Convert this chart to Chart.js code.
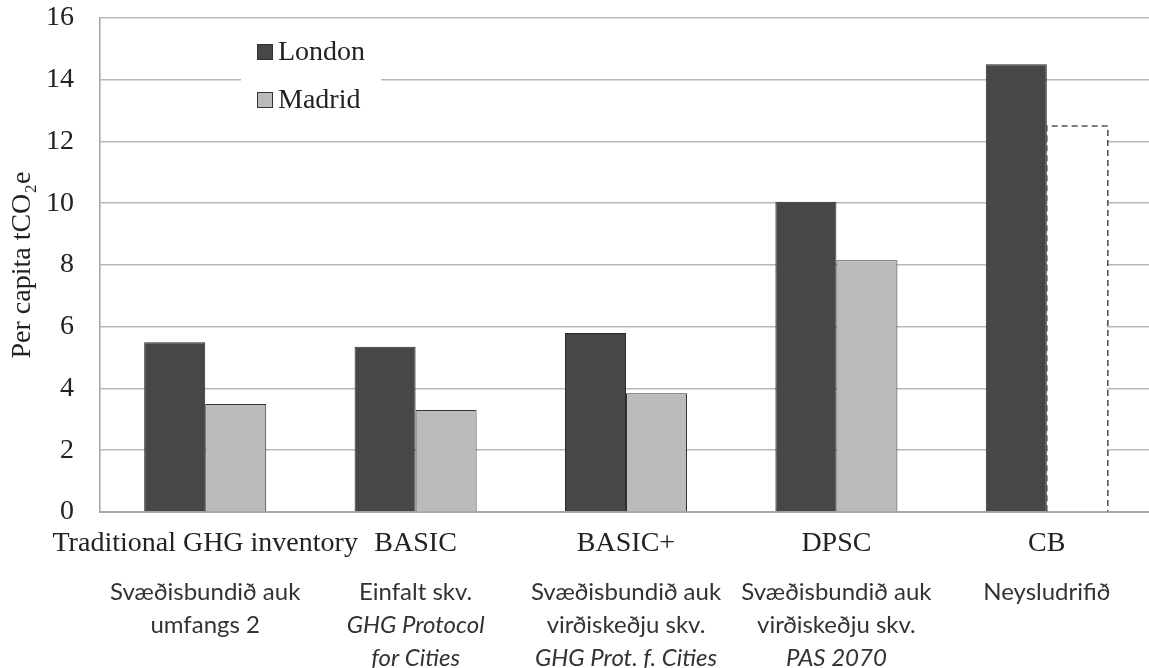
<!DOCTYPE html>
<html>
<head>
<meta charset="utf-8">
<script src="https://cdn.jsdelivr.net/npm/chart.js@4.4.1/dist/chart.umd.min.js"></script>
<style>
    html, body { margin: 0; padding: 0; background: #fff; overflow: hidden; }
    #wrap { width: 1152px; height: 668px; position: relative; }
</style>
</head>
<body>
<div id="wrap"><canvas id="emissionsChart"></canvas></div>
<script>
// Chart data
const categories = ['Traditional GHG inventory', 'BASIC', 'BASIC+', 'DPSC', 'CB'];
const londonValues = [5.5, 5.35, 5.8, 10.05, 14.5];
const madridValues = [3.5, 3.3, 3.85, 8.15, 12.5];
const madridEstimated = [false, false, false, false, true];
const yTicks = [0, 2, 4, 6, 8, 10, 12, 14, 16];

// Icelandic sub labels, one list of lines per category ({ t, i } = italic)
const subLabels = [
    ['Svæðisbundið auk', 'umfangs 2'],
    ['Einfalt skv.', { t: 'GHG Protocol', i: true }, { t: 'for Cities', i: true }],
    ['Svæðisbundið auk', 'virðiskeðju skv.', { t: 'GHG Prot. f. Cities', i: true }],
    ['Svæðisbundið auk', 'virðiskeðju skv.', { t: 'PAS 2070', i: true }],
    ['Neysludrifið']
];

const serif = '"Liberation Serif", "Times New Roman", serif';
const textColor = '#222';

// Dashed outline for estimated bars
const dashedBars = {
    id: 'dashedBars',
    afterDatasetsDraw(chart) {
        const meta = chart.getDatasetMeta(1);
        const ctx = chart.ctx;
        meta.data.forEach(function(bar, i) {
            if (!madridEstimated[i]) return;
            const p = bar.getProps(['x', 'y', 'base', 'width'], true);
            const l = p.x - p.width / 2, r = p.x + p.width / 2;
            ctx.save();
            ctx.strokeStyle = '#555';
            ctx.lineWidth = 1.6;
            ctx.setLineDash([6, 4]);
            ctx.beginPath();
            ctx.moveTo(l, p.base);
            ctx.lineTo(l, p.y);
            ctx.lineTo(r, p.y);
            ctx.lineTo(r, p.base);
            ctx.stroke();
            ctx.restore();
        });
    }
};

// Legend drawn inside the plot area
const innerLegend = {
    id: 'innerLegend',
    afterDatasetsDraw(chart) {
        const ctx = chart.ctx;
        ctx.save();
        ctx.fillStyle = '#fff';
        ctx.fillRect(241, 30, 140, 90);
        chart.data.datasets.forEach(function(ds, i) {
            const cy = 52 + i * 48;
            ctx.fillStyle = ds.legendFill;
            ctx.strokeStyle = '#333';
            ctx.lineWidth = 1;
            ctx.fillRect(257, cy - 8, 16, 16);
            ctx.strokeRect(257.5, cy - 7.5, 15, 15);
            ctx.fillStyle = textColor;
            ctx.font = '28px ' + serif;
            ctx.textBaseline = 'middle';
            ctx.textAlign = 'left';
            ctx.fillText(ds.label, 278, cy + 1);
        });
        ctx.restore();
    }
};

// Second row of category labels under the axis
const subLabelRows = {
    id: 'subLabelRows',
    afterDraw(chart) {
        const ctx = chart.ctx;
        const xScale = chart.scales.x;
        const top = chart.chartArea.bottom + 80;
        ctx.save();
        ctx.fillStyle = '#333';
        ctx.textAlign = 'center';
        ctx.textBaseline = 'middle';
        subLabels.forEach(function(lines, i) {
            const x = xScale.getPixelForValue(i);
            lines.forEach(function(line, k) {
                const italic = typeof line === 'object' && line.i;
                const txt = typeof line === 'object' ? line.t : line;
                ctx.font = (italic ? 'italic ' : '') + '24px Lato, "Open Sans", sans-serif';
                ctx.fillText(txt, x, top + k * 33);
            });
        });
        ctx.restore();
    }
};

document.addEventListener('DOMContentLoaded', function() {
    const ctx = document.getElementById('emissionsChart');
    new Chart(ctx.getContext('2d'), {
        type: 'bar',
        data: {
            labels: categories,
            datasets: [{
                label: 'London',
                data: londonValues,
                backgroundColor: '#474747',
                legendFill: '#474747',
                borderColor: '#2b2b2b',
                borderWidth: 1,
                borderSkipped: 'bottom'
            }, {
                label: 'Madrid',
                data: madridValues,
                backgroundColor: madridEstimated.map(e => e ? '#ffffff' : '#bbbbbb'),
                legendFill: '#bbbbbb',
                borderColor: madridEstimated.map(e => e ? 'rgba(0,0,0,0)' : '#333333'),
                borderWidth: 1,
                borderSkipped: 'bottom'
            }]
        },
        options: {
            responsive: true,
            maintainAspectRatio: false,
            animation: false,
            layout: {
                autoPadding: false,
                padding: { top: 18, left: 0, right: 0, bottom: 0 }
            },
            plugins: {
                legend: { display: false },
                tooltip: { enabled: false }
            },
            datasets: {
                bar: {
                    categoryPercentage: 0.58,
                    barPercentage: 1.0
                }
            },
            scales: {
                x: {
                    grid: { display: false, drawTicks: false },
                    border: { display: true, color: '#a8a8a8', width: 2 },
                    ticks: {
                        color: textColor,
                        font: { family: serif, size: 28 },
                        padding: 15,
                        maxRotation: 0,
                        autoSkip: false
                    },
                    afterFit(scale) {
                        scale.height = 156;
                        scale.paddingLeft = 0;
                        scale.paddingRight = 0;
                    }
                },
                y: {
                    min: 0,
                    max: 16,
                    afterBuildTicks(scale) {
                        scale.ticks = yTicks.map(v => ({ value: v }));
                    },
                    grid: { color: '#b8b8b8', lineWidth: 1.6, drawTicks: false },
                    border: { display: true, color: '#a8a8a8', width: 1.6 },
                    ticks: {
                        color: textColor,
                        font: { family: serif, size: 28, lineHeight: 1.0 },
                        padding: 26
                    },
                    title: {
                        display: true,
                        text: 'Per capita tCO₂e',
                        color: textColor,
                        font: { family: serif, size: 28 },
                        padding: { top: 6, bottom: 0 }
                    },
                    afterFit(scale) {
                        scale.width = 100;
                        scale.paddingTop = 0;
                        scale.paddingBottom = 0;
                    }
                }
            }
        },
        plugins: [dashedBars, innerLegend, subLabelRows]
    });
});
</script>
</body>
</html>
